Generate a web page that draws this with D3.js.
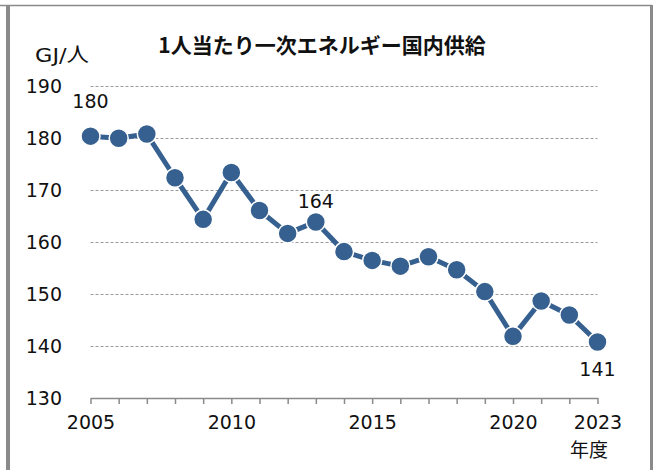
<!DOCTYPE html>
<html>
<head>
<meta charset="utf-8">
<script src="https://cdn.jsdelivr.net/npm/d3@7"></script>
<style>
  body { margin: 0; background: #fff; }
  svg text { font-family: "DejaVu Sans", "Noto Sans CJK JP", sans-serif; fill: #111; }
</style>
</head>
<body>
<div id="chart"></div>
<script>
// data
var years = [2005, 2006, 2007, 2008, 2009, 2010, 2011, 2012, 2013, 2014,
             2015, 2016, 2017, 2018, 2019, 2020, 2021, 2022, 2023];
var values = [180.3, 179.9, 180.7, 172.3, 164.3, 173.3, 166.0, 161.6, 163.8, 158.1,
              156.4, 155.3, 157.1, 154.6, 150.4, 141.8, 148.6, 145.9, 140.7];
var yTicks = [130, 140, 150, 160, 170, 180, 190];
var xLabelYears = [2005, 2010, 2015, 2020, 2023];
var labelYears = [2005, 2013, 2023];
var labelTexts = ["180", "164", "141"];
var title = "1人当たり一次エネルギー国内供給";
var unit = "GJ/人";
var xUnit = "年度";

var W = 654, H = 470;
var color = "#36608f";

var svg = d3.select("#chart").append("svg")
    .attr("width", W)
    .attr("height", H);

// frame
svg.append("line").attr("x1", 0).attr("x2", 652).attr("y1", 5.5).attr("y2", 5.5)
    .attr("stroke", "#8a8a8a").attr("stroke-width", 1.5);
svg.append("rect").attr("x", 6).attr("y", 5).attr("width", 4).attr("height", H)
    .attr("fill", "#8a8a8a");
svg.append("rect").attr("x", 650).attr("y", 5).attr("width", 3).attr("height", H)
    .attr("fill", "#8a8a8a");

var x = d3.scaleLinear().domain([2005, 2023]).range([90.5, 597.5]);
var y = d3.scaleLinear().domain([130, 190]).range([397.7, 85.7]);

// dashed gridlines
svg.append("g")
    .selectAll("line")
    .data(yTicks.filter(function(d){ return d > 130; }))
    .enter().append("line")
    .attr("x1", x(2005)).attr("x2", x(2023))
    .attr("y1", function(d){ return Math.round(y(d)) + 0.5; })
    .attr("y2", function(d){ return Math.round(y(d)) + 0.5; })
    .attr("stroke", "#9a9a9a")
    .attr("stroke-width", 1)
    .attr("stroke-dasharray", "3,2");

// y tick labels
svg.append("g")
    .selectAll("text")
    .data(yTicks)
    .enter().append("text")
    .attr("x", 62)
    .attr("y", function(d){ return y(d); })
    .attr("dy", "0.36em")
    .attr("text-anchor", "end")
    .style("font-size", "19px")
    .text(function(d){ return d; });

// x axis
var xAxis = svg.append("g")
    .attr("transform", "translate(0," + Math.round(y(130)) + ")")
    .call(d3.axisBottom(x)
        .tickValues(years)
        .tickSize(6)
        .tickSizeOuter(0)
        .tickPadding(12)
        .tickFormat(function(d){ return xLabelYears.indexOf(d) >= 0 ? d : ""; }));
xAxis.select(".domain").attr("stroke", "#8a8a8a").attr("stroke-width", 1.5);
xAxis.selectAll(".tick line").attr("stroke", "#8a8a8a").attr("stroke-width", 1.5);
xAxis.selectAll(".tick text")
    .style("font-size", "19px")
    .style("font-family", "'DejaVu Sans', sans-serif")
    .attr("fill", "#111");

// line and markers
var pts = years.map(function(d, i){ return {year: d, value: values[i]}; });
var line = d3.line()
    .x(function(d){ return x(d.year); })
    .y(function(d){ return y(d.value); });

svg.append("path")
    .datum(pts)
    .attr("d", line)
    .attr("fill", "none")
    .attr("stroke", color)
    .attr("stroke-width", 5)
    .attr("stroke-linejoin", "round");

svg.append("g")
    .selectAll("circle")
    .data(pts)
    .enter().append("circle")
    .attr("cx", function(d){ return x(d.year); })
    .attr("cy", function(d){ return y(d.value); })
    .attr("r", 9.5)
    .attr("fill", color)
    .attr("stroke", "#fff")
    .attr("stroke-width", 1.5);

// data labels (first one sits higher, last one below the point)
var labelOffset = {2005: -28, 2013: -13.5, 2023: 34};
svg.append("g")
    .selectAll("text")
    .data(labelYears)
    .enter().append("text")
    .attr("x", function(d){ return x(d); })
    .attr("y", function(d){ return y(values[years.indexOf(d)]) + labelOffset[d]; })
    .attr("text-anchor", "middle")
    .style("font-size", "19px")
    .text(function(d, i){ return labelTexts[i]; });

// titles
svg.append("text")
    .attr("x", 322).attr("y", 53)
    .attr("text-anchor", "middle")
    .style("font-family", "'Noto Sans CJK JP', sans-serif")
    .style("font-weight", "700")
    .style("font-size", "21px")
    .text(title);

svg.append("text")
    .attr("x", 35).attr("y", 62)
    .attr("textLength", 54)
    .attr("lengthAdjust", "spacingAndGlyphs")
    .style("font-size", "20px")
    .text(unit);

svg.append("text")
    .attr("x", 589).attr("y", 457)
    .attr("text-anchor", "middle")
    .style("font-family", "'Noto Sans CJK JP', sans-serif")
    .style("font-size", "19px")
    .text(xUnit);
</script>
</body>
</html>
